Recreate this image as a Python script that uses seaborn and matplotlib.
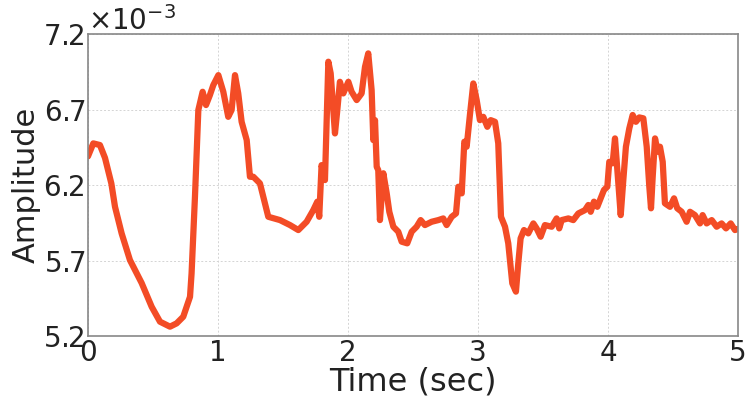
import numpy as np
import pandas as pd
import matplotlib
matplotlib.use("Agg")
import matplotlib.pyplot as plt
import seaborn as sns
from matplotlib.ticker import ScalarFormatter

# time samples (sec) and amplitude (x1e-3)
time_sec = [0.0, 0.041, 0.092, 0.131, 0.18, 0.208, 0.259, 0.323, 0.413, 0.49,
            0.554, 0.631, 0.682, 0.733, 0.785, 0.797, 0.823, 0.849, 0.882, 0.908,
            0.938, 0.964, 1.003, 1.041, 1.079, 1.105, 1.131, 1.156, 1.182, 1.221,
            1.246, 1.272, 1.323, 1.349, 1.387, 1.477, 1.554, 1.618, 1.682, 1.733,
            1.764, 1.779, 1.797, 1.823, 1.849, 1.867, 1.9, 1.918, 1.938, 1.964,
            2.003, 2.028, 2.067, 2.105, 2.131, 2.156, 2.182, 2.195, 2.208, 2.221,
            2.233, 2.246, 2.272, 2.298, 2.318, 2.349, 2.387, 2.413, 2.456, 2.49,
            2.528, 2.559, 2.592, 2.644, 2.695, 2.733, 2.759, 2.798, 2.831, 2.849,
            2.875, 2.895, 2.913, 2.938, 2.964, 2.99, 3.015, 3.041, 3.072, 3.098,
            3.131, 3.156, 3.177, 3.208, 3.233, 3.264, 3.292, 3.31, 3.328, 3.354,
            3.387, 3.426, 3.451, 3.482, 3.515, 3.567, 3.605, 3.625, 3.644, 3.695,
            3.733, 3.772, 3.823, 3.849, 3.867, 3.892, 3.918, 3.944, 3.969, 3.995,
            4.01, 4.036, 4.054, 4.072, 4.098, 4.118, 4.138, 4.164, 4.19, 4.215,
            4.241, 4.272, 4.298, 4.318, 4.331, 4.344, 4.362, 4.382, 4.4, 4.421,
            4.438, 4.477, 4.508, 4.533, 4.567, 4.605, 4.631, 4.669, 4.708, 4.728,
            4.759, 4.798, 4.836, 4.874, 4.908, 4.944, 4.977, 5.0]
amp_e3 = [6.39, 6.476, 6.465, 6.38, 6.21, 6.056, 5.88, 5.703, 5.551, 5.394,
          5.295, 5.262, 5.284, 5.328, 5.46, 5.615, 6.122, 6.697, 6.818, 6.73,
          6.796, 6.862, 6.928, 6.818, 6.652, 6.697, 6.928, 6.807, 6.619, 6.498,
          6.255, 6.255, 6.211, 6.122, 5.99, 5.968, 5.935, 5.902, 5.957, 6.034,
          6.09, 5.99, 6.332, 6.233, 7.017, 6.94, 6.542, 6.697, 6.884, 6.807,
          6.884, 6.818, 6.763, 6.807, 6.983, 7.072, 6.829, 6.498, 6.63, 6.321,
          6.299, 5.968, 6.278, 6.145, 6.023, 5.924, 5.891, 5.825, 5.814, 5.891,
          5.924, 5.968, 5.935, 5.957, 5.968, 5.979, 5.935, 5.99, 6.012, 6.189,
          6.145, 6.487, 6.454, 6.664, 6.873, 6.763, 6.63, 6.652, 6.586, 6.63,
          6.619, 6.476, 5.99, 5.924, 5.814, 5.549, 5.494, 5.681, 5.847, 5.902,
          5.88, 5.946, 5.913, 5.858, 5.935, 5.924, 5.979, 5.913, 5.968, 5.979,
          5.968, 6.012, 6.034, 6.068, 6.023, 6.09, 6.056, 6.112, 6.167, 6.189,
          6.354, 6.344, 6.509, 6.299, 6.001, 6.233, 6.454, 6.575, 6.664, 6.619,
          6.648, 6.642, 6.454, 6.189, 6.046, 6.255, 6.509, 6.421, 6.454, 6.354,
          6.079, 6.056, 6.112, 6.046, 6.023, 5.957, 6.023, 6.001, 5.946, 6.001,
          5.946, 5.968, 5.924, 5.946, 5.913, 5.946, 5.902, 5.91]

x_ticks = [0, 1, 2, 3, 4, 5]
y_ticks_e3 = [5.2, 5.7, 6.2, 6.7, 7.2]

df = pd.DataFrame({"t": time_sec, "amp": np.array(amp_e3) * 1e-3})

sns.set_style("whitegrid", {"axes.edgecolor": "#888888"})
plt.rcParams['font.family'] = ['DejaVu Sans']

fig = plt.figure(figsize=(7.48, 4.01), dpi=100)
ax = fig.add_axes([0.1176, 0.162, 0.869, 0.753])
sns.lineplot(data=df, x="t", y="amp", ax=ax, color="#F34C26", linewidth=4.5)

ax.set_xlim(0, 5)
ax.set_ylim(5.2e-3, 7.2e-3)
ax.set_xticks(x_ticks)
ax.set_yticks(np.array(y_ticks_e3) * 1e-3)
fmt = ScalarFormatter(useMathText=True)
fmt.set_powerlimits((-2, 2))
ax.yaxis.set_major_formatter(fmt)
ax.yaxis.get_offset_text().set_fontsize(20)
ax.tick_params(labelsize=20, direction="in", length=3, pad=2, colors="#222222")
ax.grid(True, linestyle=(0, (2, 2)), linewidth=0.7, color="#d4d4d4")
for s in ax.spines.values():
    s.set_linewidth(1.2)
ax.set_xlabel("Time (sec)", fontsize=23, labelpad=0, color="#222222")
ax.set_ylabel("Amplitude", fontsize=22, labelpad=2, color="#222222")

fig.savefig("out.png", dpi=100)
